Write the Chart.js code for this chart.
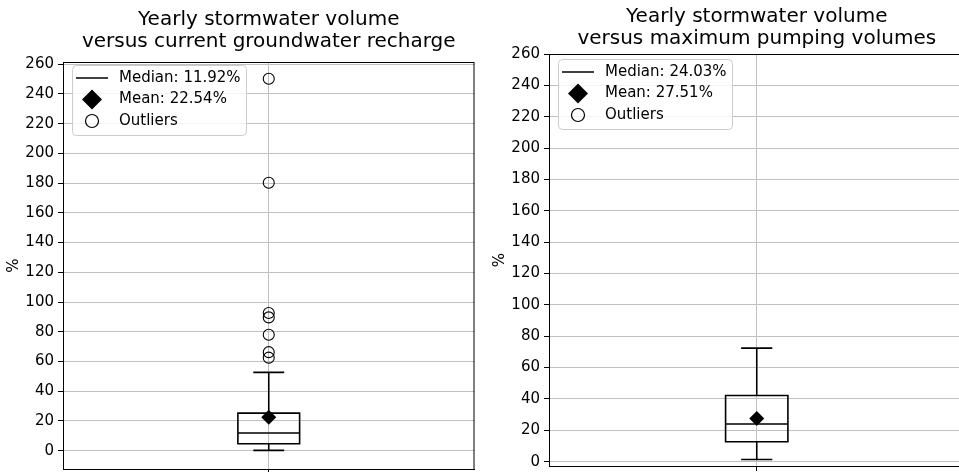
<!DOCTYPE html>
<html>
<head>
<meta charset="utf-8">
<script src="https://cdn.jsdelivr.net/npm/chart.js@4.4.0/dist/chart.umd.min.js"></script>
<style>
  html, body { margin: 0; padding: 0; background: #fff; overflow: hidden; }
  body { width: 959px; height: 472px; position: relative; }
  .panel { position: absolute; top: 0; }
  #left { left: 0; }
  #right { left: 486px; }
</style>
</head>
<body>
<div class="panel" id="left"><canvas id="chartLeft" width="482" height="500"></canvas></div>
<div class="panel" id="right"><canvas id="chartRight" width="486" height="500"></canvas></div>
<script>
// tick labels shared by both panels
const yTicks = [0, 20, 40, 60, 80, 100, 120, 140, 160, 180, 200, 220, 240, 260];
const boxPosition = 1;

// left panel: whisker low, q1, median, q3, whisker high
const leftTitle = ['Yearly stormwater volume', 'versus current groundwater recharge'];
const leftBox = [0.2, 4.7, 11.92, 25.3, 52.7];
const leftMean = 22.54;
const leftOutliers = [62.6, 66.3, 78.0, 89.7, 92.6, 180.3, 250.2];
const leftLegend = ['Median: 11.92%', 'Mean: 22.54%', 'Outliers'];

// right panel
const rightTitle = ['Yearly stormwater volume', 'versus maximum pumping volumes'];
const rightBox = [1.3, 12.7, 24.03, 42.2, 72.4];
const rightMean = 27.51;
const rightOutliers = [];
const rightLegend = ['Median: 24.03%', 'Mean: 27.51%', 'Outliers'];

Chart.defaults.font.family = "'DejaVu Sans', sans-serif";
Chart.defaults.color = '#000';

// draws box, whiskers and median from the stats through the chart scales
const boxPlot = {
  id: 'boxPlot',
  beforeDatasetsDraw(chart, args, opts) {
    const { ctx, scales: { x, y } } = chart;
    const [lo, q1, med, q3, hi] = opts.stats;
    const cx = x.getPixelForValue(opts.pos);
    const bl = x.getPixelForValue(opts.pos - opts.width / 2), br = x.getPixelForValue(opts.pos + opts.width / 2);
    const cl = x.getPixelForValue(opts.pos - opts.width / 4), cr = x.getPixelForValue(opts.pos + opts.width / 4);
    const py = v => y.getPixelForValue(v);
    ctx.save();
    ctx.strokeStyle = '#000';
    ctx.lineWidth = 1.6;
    ctx.beginPath();
    ctx.rect(bl, py(q3), br - bl, py(q1) - py(q3));
    ctx.moveTo(bl, py(med)); ctx.lineTo(br, py(med));
    ctx.moveTo(cx, py(q1)); ctx.lineTo(cx, py(lo));
    ctx.moveTo(cx, py(q3)); ctx.lineTo(cx, py(hi));
    ctx.moveTo(cl, py(lo)); ctx.lineTo(cr, py(lo));
    ctx.moveTo(cl, py(hi)); ctx.lineTo(cr, py(hi));
    ctx.stroke();
    ctx.restore();
  },
  afterDraw(chart, args, opts) {
    const { ctx, chartArea: a } = chart;
    ctx.save();
    // frame
    ctx.strokeStyle = '#000';
    ctx.lineWidth = 1;
    ctx.strokeRect(a.left + 0.5, a.top + 0.5, a.right - a.left - 1, a.bottom - a.top);
    // legend
    const lx = a.left + opts.legend.dx, ly = a.top + opts.legend.dy;
    ctx.beginPath();
    ctx.roundRect(lx + 0.5, ly + 0.5, 174, 70, 4);
    ctx.fillStyle = 'rgba(255,255,255,0.8)';
    ctx.fill();
    ctx.strokeStyle = '#cccccc';
    ctx.stroke();
    const rows = [13, 34.5, 56];
    const sx = lx + 20;
    ctx.strokeStyle = '#000';
    ctx.fillStyle = '#000';
    ctx.lineWidth = 1.5;
    ctx.beginPath();
    ctx.moveTo(lx + 4, ly + rows[0]); ctx.lineTo(lx + 36, ly + rows[0]);
    ctx.stroke();
    ctx.beginPath();
    ctx.moveTo(sx, ly + rows[1] - 10); ctx.lineTo(sx + 10, ly + rows[1]);
    ctx.lineTo(sx, ly + rows[1] + 10); ctx.lineTo(sx - 10, ly + rows[1]);
    ctx.closePath();
    ctx.fill();
    ctx.beginPath();
    ctx.arc(sx, ly + rows[2], 6.5, 0, Math.PI * 2);
    ctx.lineWidth = 1.2;
    ctx.stroke();
    ctx.font = "15px 'DejaVu Sans', sans-serif";
    ctx.textBaseline = 'middle';
    ctx.textAlign = 'left';
    opts.labels.forEach((t, i) => ctx.fillText(t, lx + 47, ly + rows[i]));
    ctx.restore();
  }
};

function makeChart(id, cfg) {
  return new Chart(document.getElementById(id), {
    type: 'scatter',
    data: {
      datasets: [
        {
          label: 'Outliers',
          data: cfg.outliers.map(v => ({ x: boxPosition, y: v })),
          pointStyle: 'circle', pointRadius: 5.5, borderWidth: 1.1,
          borderColor: '#000', backgroundColor: 'rgba(0,0,0,0)'
        },
        {
          label: 'Mean',
          data: [{ x: boxPosition, y: cfg.mean }],
          pointStyle: 'rectRot', pointRadius: 7.5, borderWidth: 0,
          borderColor: '#000', backgroundColor: '#000'
        }
      ]
    },
    options: {
      responsive: false,
      animation: false,
      layout: { padding: { left: 0, right: cfg.padRight, top: 0, bottom: cfg.padBottom } },
      plugins: {
        legend: { display: false },
        tooltip: { enabled: false },
        title: {
          display: true, fullSize: false, text: cfg.title, color: '#000',
          font: { size: 20, weight: 'normal', lineHeight: 1.1 },
          padding: cfg.titlePad
        },
        boxPlot: { stats: cfg.box, pos: boxPosition, width: 0.15, labels: cfg.legend, legend: cfg.legendPos }
      },
      scales: {
        x: {
          type: 'linear', min: 0.5, max: 1.5,
          afterBuildTicks: s => { s.ticks = [{ value: boxPosition }]; },
          afterFit: s => { s.height = 8; },
          ticks: { display: false },
          grid: { color: '#c0c0c0', tickColor: '#000', tickLength: 5, lineWidth: 1 },
          border: { color: '#000', width: 1 }
        },
        y: {
          min: cfg.ymin, max: cfg.ymax,
          afterBuildTicks: s => { s.ticks = yTicks.map(v => ({ value: v })); },
          afterFit: s => { s.width = 63; },
          ticks: { font: { size: 15 }, color: '#000', padding: 4 },
          grid: { color: '#c0c0c0', tickColor: '#000', tickLength: 5, lineWidth: 1 },
          border: { color: '#000', width: 1 },
          title: { display: true, text: '%', font: { size: 15 }, color: '#000', padding: { top: 5, bottom: 0 } }
        }
      }
    },
    plugins: [boxPlot]
  });
}

makeChart('chartLeft', {
  title: leftTitle, box: leftBox, mean: leftMean, outliers: leftOutliers, legend: leftLegend,
  ymin: -12.3, ymax: 261.5, padRight: 3, padBottom: 23,
  titlePad: { top: 9, bottom: 9 }, legendPos: { dx: 9, dy: 3 }
});
makeChart('chartRight', {
  title: rightTitle, box: rightBox, mean: rightMean, outliers: rightOutliers, legend: rightLegend,
  ymin: -2.8, ymax: 260, padRight: 4, padBottom: 26,
  titlePad: { top: 6, bottom: 4 }, legendPos: { dx: 9, dy: 5 }
});
</script>
</body>
</html>
